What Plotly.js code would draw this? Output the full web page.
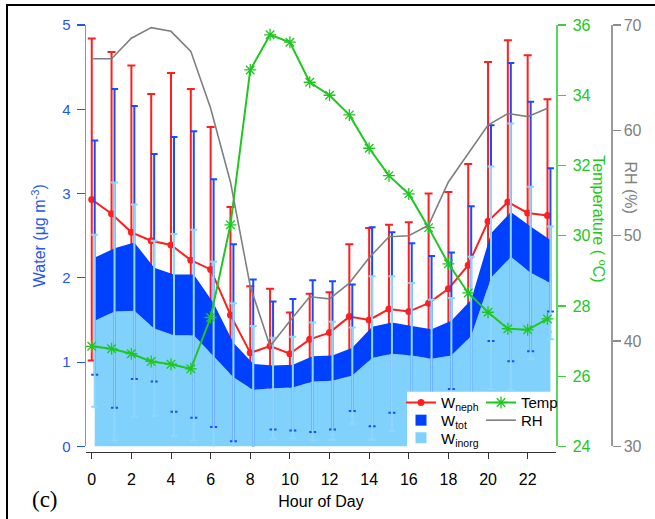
<!DOCTYPE html>
<html>
<head>
<meta charset="utf-8">
<script src="https://cdn.plot.ly/plotly-3.0.1.min.js"></script>
<style>
  html, body { margin: 0; padding: 0; overflow: hidden; background: #fff; }
  #wrap { position: relative; width: 655px; height: 519px; }
  #chart { width: 655px; height: 519px; }
  #frame { position: absolute; left: 6px; top: 4px; width: 700px; height: 600px;
           border-top: 2px solid #000; border-left: 2px solid #000; pointer-events: none; }
</style>
</head>
<body>
<div id="wrap"><div id="chart"></div><div id="frame"></div></div>
<script>
// ---- data ----
const hours = [0,1,2,3,4,5,6,7,8,9,10,11,12,13,14,15,16,17,18,19,20,21,22,23];
const xTicks = [0,2,4,6,8,10,12,14,16,18,20,22];

const wNeph    = [2.93,2.76,2.54,2.44,2.39,2.21,2.10,1.56,1.11,1.19,1.10,1.27,1.35,1.54,1.50,1.63,1.60,1.70,1.87,2.15,2.67,2.90,2.77,2.74];
const wNephErr = [1.91,1.92,1.98,1.74,2.04,2.03,1.69,1.28,0.79,0.68,0.49,0.54,0.48,0.86,1.09,1.00,1.06,1.30,1.15,1.20,1.89,1.92,1.87,1.38];

const wTot     = [2.24,2.35,2.42,2.12,2.04,2.04,1.70,1.23,0.98,0.96,0.97,1.07,1.08,1.17,1.42,1.47,1.43,1.39,1.49,1.74,2.53,2.78,2.61,2.45];
const wTotErr  = [1.39,1.89,1.62,1.35,1.63,1.70,1.47,1.17,1.00,0.76,0.78,0.90,0.88,0.75,1.18,1.07,0.98,0.87,0.81,1.11,1.28,1.77,1.48,0.85];

const wInorg    = [1.49,1.60,1.61,1.40,1.32,1.32,1.07,0.82,0.67,0.69,0.70,0.77,0.78,0.84,1.05,1.10,1.08,1.04,1.08,1.31,2.00,2.25,2.06,1.94];
const wInorgErr = [1.02,1.53,1.26,1.04,1.20,1.25,1.12,0.88,0.76,0.60,0.60,0.70,0.70,0.57,0.97,0.92,0.86,0.70,0.68,0.94,1.32,1.58,1.02,0.67];

const temp = [26.85,26.78,26.64,26.42,26.34,26.21,27.67,30.31,34.72,35.72,35.51,34.37,34.00,33.44,32.49,31.71,31.19,30.23,29.20,28.37,27.82,27.35,27.32,27.63];
const rh   = [66.8,66.8,68.75,69.75,69.4,67.5,62.1,55.1,45.2,39.5,41.9,44.2,44.0,45.5,47.9,49.9,50.0,51.0,55.1,57.8,60.5,61.6,61.3,62.1];

const seriesNames = ['W<sub>neph</sub>', 'W<sub>tot</sub>', 'W<sub>inorg</sub>', 'Temp', 'RH'];

// ---- styling ----
const RED = '#ff1f1f', BLUE = '#0040ff', LBLUE = '#80d2fd', GREEN = '#1ec81e', GRAY = '#7f7f7f';
const AXBLUE = '#2455f5', FONT = 'Liberation Sans, Arial, sans-serif';

const traces = [
  // red error bars (bottom layer)
  {x: hours, y: wNeph, xaxis: 'x', yaxis: 'y', mode: 'markers', showlegend: false, hoverinfo: 'skip',
   marker: {size: 1, opacity: 0},
   error_y: {type: 'data', array: wNephErr, visible: true, color: RED, thickness: 2, width: 4}},
  // red line
  {x: hours, y: wNeph, xaxis: 'x', yaxis: 'y', mode: 'lines+markers', name: seriesNames[0],
   legend: 'legend',
   line: {color: RED, width: 2}, marker: {color: RED, size: 7, symbol: 'circle'}},
  // areas
  {x: hours, y: wInorg, xaxis: 'x2', yaxis: 'y', mode: 'lines', fill: 'tozeroy', showlegend: false,
   fillcolor: LBLUE, line: {width: 0, color: LBLUE}, hoverinfo: 'skip'},
  {x: hours, y: wTot, xaxis: 'x2', yaxis: 'y', mode: 'lines', fill: 'tonexty', showlegend: false,
   fillcolor: BLUE, line: {width: 0, color: BLUE}, hoverinfo: 'skip'},
  // blue error bars
  {x: hours, y: wTot, xaxis: 'x2', yaxis: 'y', mode: 'markers', showlegend: false, hoverinfo: 'skip',
   marker: {size: 1, opacity: 0},
   error_y: {type: 'data', array: wTotErr, visible: true, color: '#1a4cff', thickness: 2, width: 3.5}},
  {x: hours, y: wInorg, xaxis: 'x2', yaxis: 'y', mode: 'markers', showlegend: false, hoverinfo: 'skip',
   marker: {size: 1, opacity: 0},
   error_y: {type: 'data', array: wInorgErr, visible: true, color: '#8fd6ff', thickness: 2, width: 3.5}},
  // legend-only entries for the areas
  {x: [null], y: [null], xaxis: 'x2', yaxis: 'y', mode: 'markers', name: seriesNames[1],
   legend: 'legend2', marker: {symbol: 'square', size: 11, color: BLUE}},
  {x: [null], y: [null], xaxis: 'x2', yaxis: 'y', mode: 'markers', name: seriesNames[2],
   legend: 'legend3', marker: {symbol: 'square', size: 11, color: LBLUE}},
  // temperature
  {x: hours, y: temp, xaxis: 'x3', yaxis: 'y2', mode: 'lines+markers', name: seriesNames[3],
   legend: 'legend4',
   line: {color: GREEN, width: 2},
   marker: {symbol: 'asterisk-open', size: 10, color: GREEN, line: {color: GREEN, width: 1.3}}},
  // RH
  {x: hours, y: rh, xaxis: 'x3', yaxis: 'y3', mode: 'lines', name: seriesNames[4],
   legend: 'legend5',
   line: {color: GRAY, width: 1.6}}
];

const W0 = 86, W1 = 611, H0 = 25, H1 = 452.3;
const PW = W1 - W0, PH = H1 - H0;
const px = v => (v - W0) / PW;
const py = v => (H1 - v) / PH;

function leg(xPix, yPix) {
  return {x: px(xPix), y: py(yPix), xanchor: 'left', yanchor: 'middle', bgcolor: 'rgba(0,0,0,0)',
          font: {size: 15, color: '#000'}, tracegroupgap: 0, itemwidth: 30, borderwidth: 0};
}

const layout = {
  width: 655, height: 519,
  margin: {l: W0, r: 655 - W1, t: H0, b: 519 - H1, pad: 0},
  paper_bgcolor: '#fff', plot_bgcolor: 'rgba(0,0,0,0)',
  font: {family: FONT, size: 15, color: '#000'},
  showlegend: true,
  xaxis: {
    domain: [0, px(556)], range: [-0.29, 23.43], anchor: 'free', position: 0,
    tickvals: xTicks, ticks: 'outside', ticklen: 6, tickwidth: 1, tickcolor: '#333',
    showline: true, linecolor: '#333', linewidth: 1, showgrid: false, zeroline: false,
    tickfont: {size: 16, color: '#000'}, ticklabelstandoff: 7,
    title: {text: 'Hour of Day', font: {size: 16, color: '#000'}, standoff: 8}
  },
  xaxis2: {overlaying: 'x', range: [-0.44, 23.28], visible: false},
  xaxis3: {overlaying: 'x', range: [-0.29, 23.43], visible: false},
  yaxis: {
    domain: [py(446.7), 1], range: [0, 5], dtick: 1, anchor: 'x',
    ticks: 'outside', ticklen: 8, tickwidth: 1.2, tickcolor: AXBLUE,
    showline: true, linecolor: '#7090ff', linewidth: 1.5, showgrid: false, zeroline: false,
    tickfont: {size: 15, color: AXBLUE}, ticklabelstandoff: 3,
    title: {text: 'Water (μg m<sup>-3</sup>)', font: {size: 16, color: AXBLUE}, standoff: 12}
  },
  yaxis2: {
    overlaying: 'y', side: 'right', anchor: 'x', range: [24, 36], dtick: 2,
    ticks: 'outside', ticklen: 8, tickwidth: 1.2, tickcolor: '#3ccc3c',
    showline: true, linecolor: '#5ad85a', linewidth: 1.5, showgrid: false, zeroline: false,
    tickfont: {size: 16, color: GREEN}, ticklabelstandoff: 4
  },
  yaxis3: {
    overlaying: 'y', side: 'right', anchor: 'free', position: 1, range: [30, 70], dtick: 10,
    ticks: 'outside', ticklen: 8, tickwidth: 1.2, tickcolor: '#8c8c8c',
    showline: true, linecolor: '#9a9a9a', linewidth: 1.5, showgrid: false, zeroline: false,
    tickfont: {size: 16, color: GRAY}
  },
  legend:  leg(401, 403),
  legend2: leg(401, 420.7),
  legend3: leg(401, 438.3),
  legend4: leg(481, 403),
  legend5: leg(481, 420.7),
  shapes: [
    {type: 'rect', xref: 'paper', yref: 'paper', x0: px(407), x1: px(554.5), y0: py(451), y1: py(392),
     fillcolor: '#fff', line: {width: 0}, layer: 'above'}
  ],
  annotations: [
    {text: 'Temperature ( <sup>o</sup>C)', xref: 'paper', yref: 'paper', x: px(599), y: py(218.5),
     xanchor: 'center', yanchor: 'middle',
     showarrow: false, textangle: 90, font: {size: 16, color: GREEN}},
    {text: 'RH (%)', xref: 'paper', yref: 'paper', x: px(631), y: py(187.5),
     xanchor: 'center', yanchor: 'middle',
     showarrow: false, textangle: 90, font: {size: 16, color: GRAY}},
    {text: '(c)', xref: 'paper', yref: 'paper', x: px(45), y: py(500),
     xanchor: 'center', yanchor: 'middle',
     showarrow: false, font: {family: 'Liberation Serif, Times New Roman, serif', size: 23, color: '#000'}}
  ]
};

Plotly.newPlot('chart', traces, layout, {displayModeBar: false, staticPlot: true});
</script>
</body>
</html>
